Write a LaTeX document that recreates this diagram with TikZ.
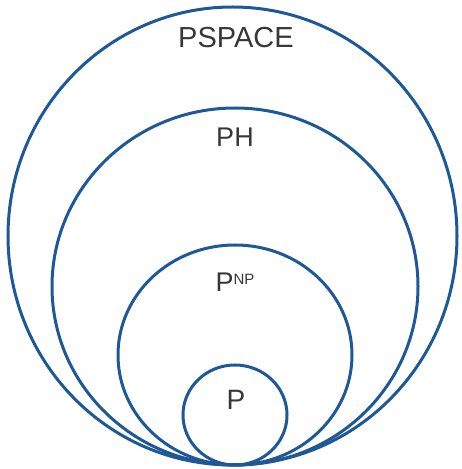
\documentclass[tikz,border=0pt]{standalone}
\usepackage{fontspec}
\setmainfont{Liberation Sans}
\definecolor{ringblue}{RGB}{30,88,150}
\definecolor{labelgray}{RGB}{55,55,55}
\begin{document}
\begin{tikzpicture}[x=1pt,y=1pt,
  ring/.style={draw=ringblue,line width=3pt},
  lbl/.style={text=labelgray,inner sep=0pt,font=\fontsize{27}{27}\selectfont}]
\useasboundingbox (0,0) rectangle (461,469);
% y_tikz = 469 - y_img
\draw[ring] (232.5,233) ellipse [x radius=224.5, y radius=229];
\draw[ring] (235,182.5) ellipse [x radius=183, y radius=178.5];
\draw[ring] (235,114) ellipse [x radius=117, y radius=110];
\draw[ring] (235,54) ellipse [x radius=52, y radius=50];
\node[lbl,font=\fontsize{29}{29}\selectfont] (pspace) at (236,431) {PSPACE};
\node[lbl] (ph) at (235,332) {PH};
\node[lbl,anchor=base] (pnp) at (235,177) {P\raisebox{7pt}{\fontsize{15}{15}\selectfont NP}};
\node[lbl,font=\fontsize{28}{28}\selectfont] (p) at (236,69) {P};
\end{tikzpicture}
\end{document}
